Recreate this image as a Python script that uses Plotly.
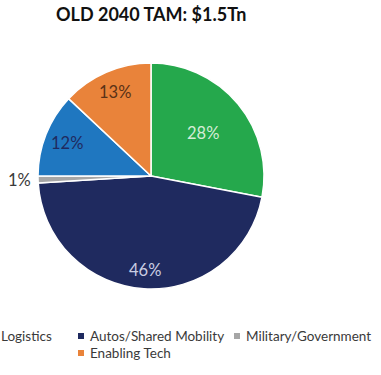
import math
import plotly.graph_objects as go

# Market share of the 2040 total addressable market, by segment
labels = ["Logistics", "Autos/Shared Mobility", "Military/Government",
          "Passenger", "Enabling Tech"]
shares = [28, 46, 1, 12, 13]
colors = ["#25A84C", "#1F2A5F", "#A6A6A6", "#1F77C0", "#E9833A"]
text_colors = ["#D4ECD6", "#C9CDE2", "#3A3A3A", "#1F2A5F", "#5A3217"]
# radial placement of each value label, as a fraction of the pie radius
label_radius = [0.60, 0.83, 1.16, 0.80, 0.81]

# legend rows drawn below the pie: (label index, x of swatch px, y px)
legend_items = [(0, -8, 336), (1, 81, 336), (2, 237, 336), (4, 81, 353)]

W, H = 381, 375
FONT = "Lato, 'Open Sans', sans-serif"

cx, cy, r = 151, 176, 113

fig = go.Figure(go.Pie(
    labels=labels,
    values=shares,
    sort=False,
    direction="clockwise",
    rotation=0,
    marker=dict(colors=colors, line=dict(color="white", width=1.5)),
    textinfo="none",
    showlegend=False,
    hoverinfo="label+percent",
    domain=dict(x=[(cx - r) / W, (cx + r) / W],
                y=[(H - cy - r) / H, (H - cy + r) / H]),
))

annotations = [dict(
    text="<b>OLD 2040 TAM: $1.5Tn</b>",
    x=151 / W, y=1 - 14 / H, xref="paper", yref="paper",
    xanchor="center", yanchor="middle", showarrow=False,
    font=dict(family=FONT, size=18, color="#111111"),
)]

# value labels at each slice's mid angle (clockwise from 12 o'clock)
total = sum(shares)
start = 0.0
for i, v in enumerate(shares):
    mid = (start + v / 2) / total * 2 * math.pi
    start += v
    rr = label_radius[i] * r
    px = cx + rr * math.sin(mid)
    py = cy - rr * math.cos(mid)
    annotations.append(dict(
        text=f"{v}%", x=px / W, y=1 - py / H, xref="paper", yref="paper",
        xanchor="center", yanchor="middle", showarrow=False,
        font=dict(family=FONT, size=16.5, color=text_colors[i]),
    ))

shapes = []
for idx, px, py in legend_items:
    shapes.append(dict(
        type="rect", xref="paper", yref="paper",
        x0=(px - 3) / W, x1=(px + 3) / W,
        y0=1 - (py + 3) / H, y1=1 - (py - 3) / H,
        fillcolor=colors[idx], line=dict(width=0),
    ))
    annotations.append(dict(
        text=labels[idx], x=(px + 7) / W, y=1 - py / H,
        xref="paper", yref="paper", xanchor="left", yanchor="middle",
        showarrow=False, font=dict(family=FONT, size=13.5, color="#3A3A3A"),
    ))

fig.update_layout(
    width=W, height=H,
    margin=dict(l=0, r=0, t=0, b=0),
    paper_bgcolor="white",
    plot_bgcolor="white",
    annotations=annotations,
    shapes=shapes,
)

fig.write_html("out.html")
